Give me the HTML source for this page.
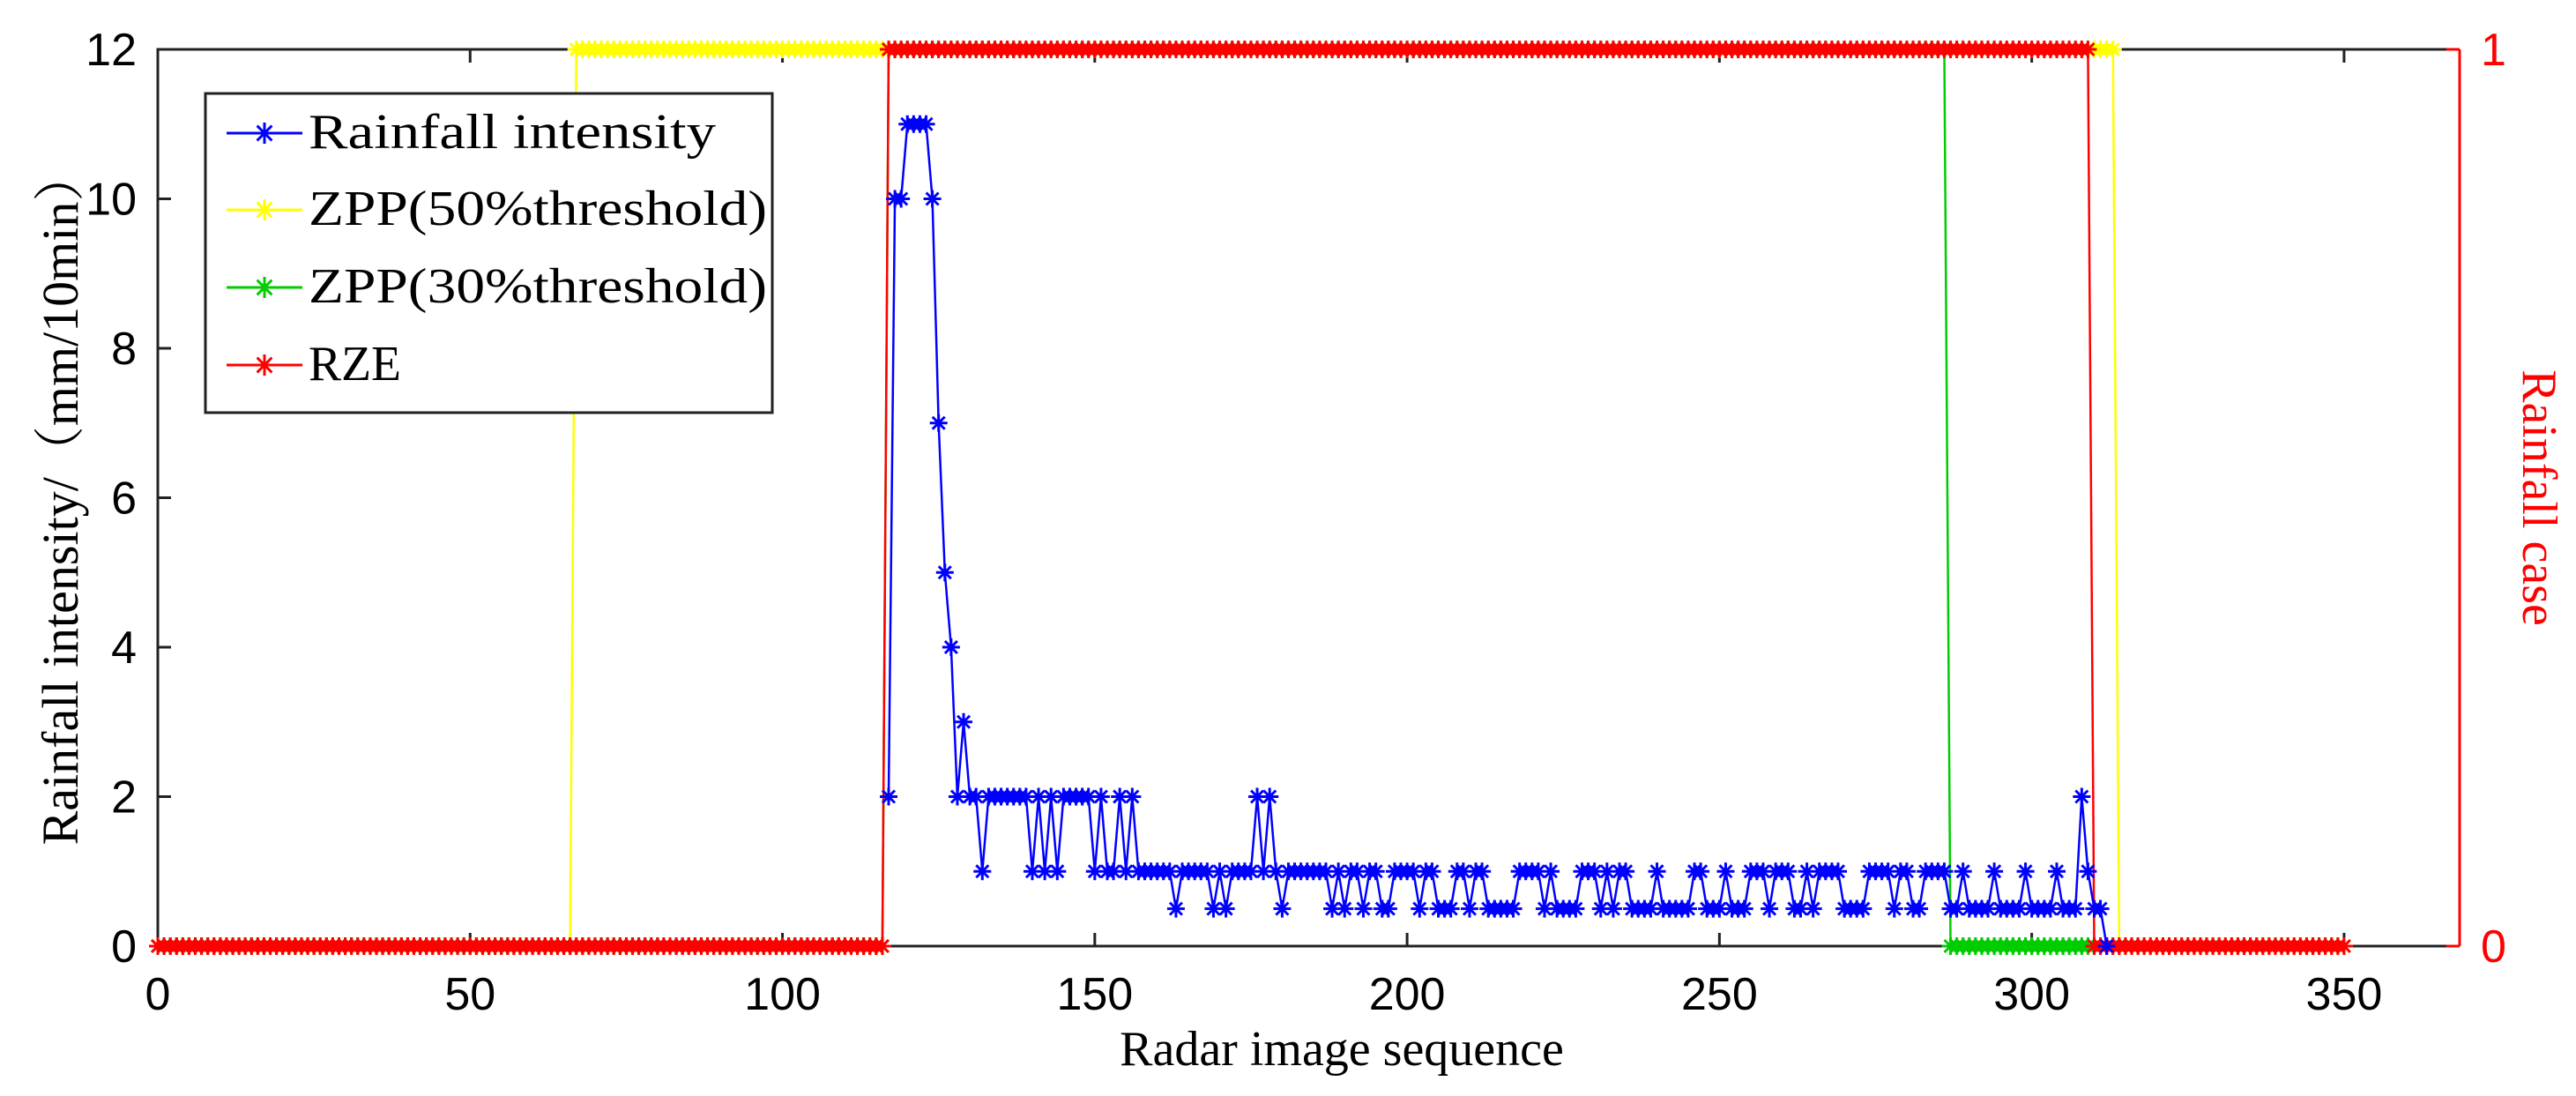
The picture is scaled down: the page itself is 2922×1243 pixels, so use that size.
<!DOCTYPE html>
<html><head><meta charset="utf-8"><style>
html,body{margin:0;padding:0;background:#fff;}
svg{display:block;}
</style></head><body>
<svg id="chart" width="2922" height="1243" xmlns="http://www.w3.org/2000/svg"></svg>
<script>
const xTicks = [0,50,100,150,200,250,300,350];
const yTicks = [0,2,4,6,8,10,12];
const rightTicks = [0,1];
const rainStart = 117;
const rainfall = [2,10,10,11,11,11,11,10,7,5,4,2,3,2,2,1,2,2,2,2,2,2,2,1,2,1,2,1,2,2,2,2,2,1,2,1,1,2,1,2,1,1,1,1,1,1,0.5,1,1,1,1,1,0.5,1,0.5,1,1,1,1,2,1,2,1,0.5,1,1,1,1,1,1,1,0.5,1,0.5,1,1,0.5,1,1,0.5,0.5,1,1,1,1,0.5,1,1,0.5,0.5,0.5,1,1,0.5,1,1,0.5,0.5,0.5,0.5,0.5,1,1,1,1,0.5,1,0.5,0.5,0.5,0.5,1,1,1,0.5,1,0.5,1,1,0.5,0.5,0.5,0.5,1,0.5,0.5,0.5,0.5,0.5,1,1,0.5,0.5,0.5,1,0.5,0.5,0.5,1,1,1,0.5,1,1,1,0.5,0.5,1,0.5,1,1,1,1,0.5,0.5,0.5,0.5,1,1,1,1,0.5,1,1,0.5,0.5,1,1,1,1,0.5,0.5,1,0.5,0.5,0.5,0.5,1,0.5,0.5,0.5,0.5,1,0.5,0.5,0.5,0.5,1,0.5,0.5,0.5,2,1,0.5,0.5,0];
const zpp50Runs = [[0,66,0],[67,313,1],[314,350,0]];
const zpp30Runs = [[0,116,0],[117,286,1],[287,309,0]];
const rzeRuns = [[0,116,0],[117,309,1],[310,350,0]];

const svg = document.getElementById('chart');
const NS = 'http://www.w3.org/2000/svg';
const L = 179, R = 2790, T = 56, B = 1073;
const XMAX = 368.5;
const xs = v => L + (v / XMAX) * (R - L);
const yl = v => B - (v / 12) * (B - T);
const yr = v => B - v * (B - T);

function mk(tag, attrs, parent) {
  const e = document.createElementNS(NS, tag);
  for (const k in attrs) e.setAttribute(k, attrs[k]);
  (parent || svg).appendChild(e);
  return e;
}
function expand(runs) {
  const pts = [];
  runs.forEach(r => { for (let i = r[0]; i <= r[1]; i++) pts.push([i, r[2]]); });
  return pts;
}
function star(x, y, s) {
  return `M${x-s},${y}H${x+s}M${x},${y-s}V${y+s}M${x-s*0.7},${y-s*0.7}L${x+s*0.7},${y+s*0.7}M${x-s*0.7},${y+s*0.7}L${x+s*0.7},${y-s*0.7}`;
}
function drawSeries(name, pts, yf, color) {
  const g = mk('g', {});
  
  
  const line = mk('polyline', {points: pts.map(p => xs(p[0]) + ',' + yf(p[1])).join(' '), fill: 'none', stroke: color, 'stroke-width': 2.5}, g);
  
  
  let d = '';
  pts.forEach(p => { d += star(xs(p[0]), yf(p[1]), 10); });
  const m = mk('path', {d: d, stroke: color, 'stroke-width': 3, fill: 'none'}, g);
  
  
}

const frame = mk('path', {d: `M${R},${T}H${L}V${B}H${R}`, fill: 'none', stroke: '#222', 'stroke-width': 3});


const rAxis = mk('line', {x1: R, y1: T, x2: R, y2: B, stroke: '#ff0000', 'stroke-width': 3});



xTicks.forEach(v => {
  const x = xs(v);
  const t = mk('path', {d: `M${x},${B}v-15M${x},${T}v15`, stroke: '#222', 'stroke-width': 3});
  
  
  const lb = mk('text', {x: x, y: B + 72, 'text-anchor': 'middle', 'font-family': 'Liberation Sans, sans-serif', 'font-size': 52, fill: '#000'});
  lb.textContent = v;
  
  
});
yTicks.forEach(v => {
  const y = yl(v);
  const t = mk('path', {d: `M${L},${y}h15`, stroke: '#222', 'stroke-width': 3});
  
  
  const lb = mk('text', {x: L - 24, y: y + 18, 'text-anchor': 'end', 'font-family': 'Liberation Sans, sans-serif', 'font-size': 52, fill: '#000'});
  lb.textContent = v;
  
  
});
rightTicks.forEach(v => {
  const y = yr(v);
  const t = mk('path', {d: `M${R},${y}h-15`, stroke: '#ff0000', 'stroke-width': 3});
  
  
  const lb = mk('text', {x: R + 24, y: y + 18, 'text-anchor': 'start', 'font-family': 'Liberation Sans, sans-serif', 'font-size': 52, fill: '#ff0000'});
  lb.textContent = v;
  
  
});

drawSeries('zpp-50-series', expand(zpp50Runs), yr, '#ffff00');
drawSeries('zpp-30-series', expand(zpp30Runs), yr, '#00cc00');
drawSeries('rze-series', expand(rzeRuns), yr, '#ff0000');
drawSeries('rainfall-series', rainfall.map((v, i) => [rainStart + i, v]), yl, '#0000ff');

const xt = mk('text', {x: 1522, y: 1208, 'text-anchor': 'middle', 'font-family': 'Liberation Serif, serif', 'font-size': 56, fill: '#000'});
xt.textContent = 'Radar image sequence';


const ytl = mk('text', {x: 0, y: 0, 'text-anchor': 'middle', 'font-family': 'Liberation Serif, Noto Serif CJK SC, serif', 'font-size': 58, fill: '#000', transform: `translate(88,${(T+B)/2}) rotate(-90)`});
ytl.textContent = 'Rainfall intensity/（mm/10min）';


const ytr = mk('text', {x: 0, y: 0, 'text-anchor': 'middle', 'font-family': 'Liberation Serif, serif', 'font-size': 56, fill: '#ff0000', transform: `translate(2862,${(T+B)/2}) rotate(90)`});
ytr.textContent = 'Rainfall case';



const lg = mk('g', {});


const box = mk('rect', {x: 233, y: 106, width: 643, height: 362, fill: '#fff', stroke: '#222', 'stroke-width': 3}, lg);


const legNames = ['Rainfall intensity', 'ZPP(50%threshold)', 'ZPP(30%threshold)', 'RZE'];
const legColors = ['#0000ff', '#ffff00', '#00cc00', '#ff0000'];
const legY = [151, 238, 326, 414];
const legWidths = [462, 520, 520, 105];
legNames.forEach((n, i) => {
  const e = mk('g', {}, lg);
  
  
  mk('line', {x1: 257, x2: 343, y1: legY[i], y2: legY[i], stroke: legColors[i], 'stroke-width': 3}, e);
  mk('path', {d: star(300, legY[i], 12), stroke: legColors[i], 'stroke-width': 3}, e);
  const t = mk('text', {x: 350, y: legY[i] + 17, 'font-family': 'Liberation Serif, serif', 'font-size': 56, fill: '#000', textLength: legWidths[i], lengthAdjust: 'spacingAndGlyphs'}, e);
  t.textContent = n;
});
</script>
</body></html>
